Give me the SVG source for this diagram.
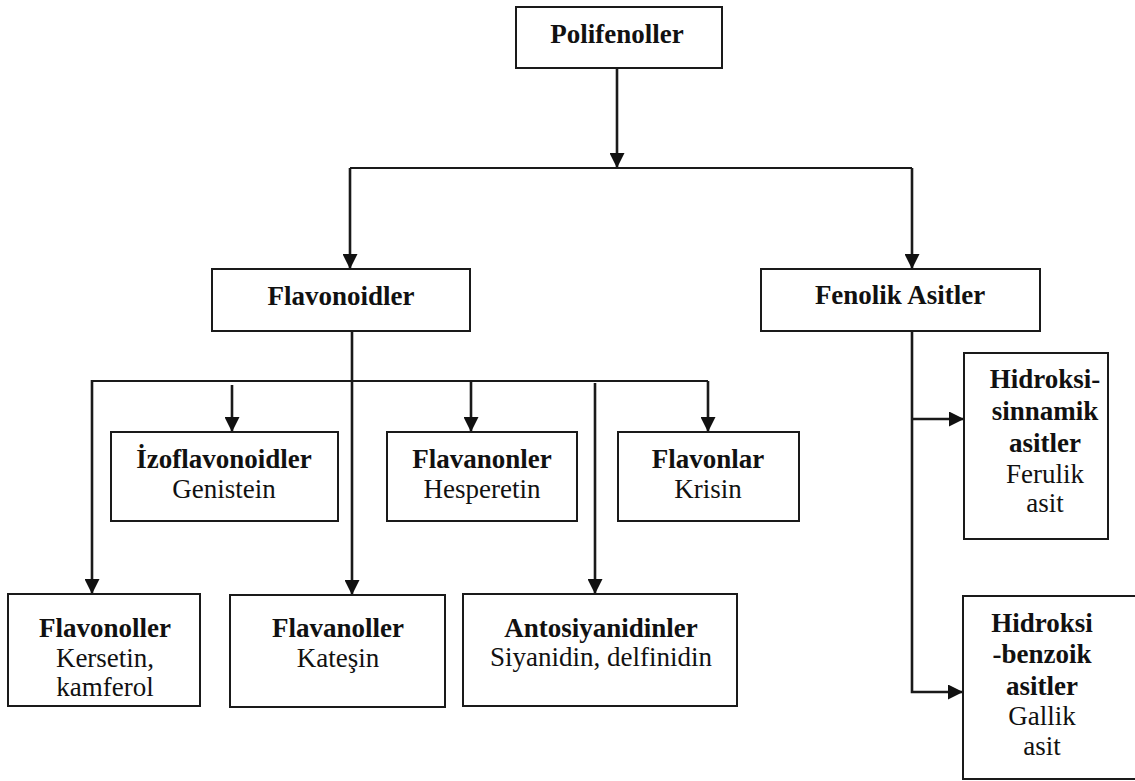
<svg xmlns="http://www.w3.org/2000/svg" width="1135" height="781" viewBox="0 0 1135 781">
<style>
.box{fill:#fff;stroke:#1a1a1a;stroke-width:2}
.t{font-family:"Liberation Serif","Times New Roman",serif;font-size:27px;fill:#111;text-anchor:middle}
.b{font-weight:bold}
.c{fill:none;stroke:#1a1a1a;stroke-width:2.6}
.h{fill:none;stroke:#1a1a1a;stroke-width:1.8}
</style>
<defs>
<marker id="ah" viewBox="0 0 10 10" refX="10" refY="5" markerWidth="15" markerHeight="15" markerUnits="userSpaceOnUse" orient="auto">
<path d="M0,0 L10,5 L0,10 z" fill="#111"/>
</marker>
</defs>
<rect width="1135" height="781" fill="#fff"/>
<g id="connectors">
<line class="c" x1="617" y1="68" x2="617" y2="168" marker-end="url(#ah)"/>
<line class="h" x1="350" y1="168" x2="912" y2="168"/>
<line class="c" x1="350" y1="168" x2="350" y2="269" marker-end="url(#ah)"/>
<line class="c" x1="912" y1="168" x2="912" y2="269" marker-end="url(#ah)"/>
<line class="c" x1="352" y1="331" x2="352" y2="595" marker-end="url(#ah)"/>
<line class="h" x1="92" y1="381" x2="708" y2="381"/>
<line class="c" x1="92" y1="380" x2="92" y2="594" marker-end="url(#ah)"/>
<line class="c" x1="232" y1="385" x2="232" y2="432" marker-end="url(#ah)"/>
<line class="c" x1="471" y1="381" x2="471" y2="432" marker-end="url(#ah)"/>
<line class="c" x1="595" y1="383" x2="595" y2="594" marker-end="url(#ah)"/>
<line class="c" x1="708" y1="381" x2="708" y2="432" marker-end="url(#ah)"/>
<polyline class="c" points="912,331 912,692 963,692" marker-end="url(#ah)"/>
<line class="c" x1="912" y1="419" x2="964" y2="419" marker-end="url(#ah)"/>
</g>
<g id="polifenoller">
<rect class="box" x="516" y="7" width="206" height="61"/>
<text class="t b" x="617" y="43">Polifenoller</text>
</g>
<g id="flavonoidler">
<rect class="box" x="212" y="269" width="258" height="62"/>
<text class="t b" x="341" y="305">Flavonoidler</text>
</g>
<g id="fenolik">
<rect class="box" x="761" y="269" width="279" height="62"/>
<text class="t b" x="900" y="304">Fenolik Asitler</text>
</g>
<g id="izoflavonoidler">
<rect class="box" x="111" y="432" width="227" height="89"/>
<text class="t b" x="224" y="468">İzoflavonoidler</text>
<text class="t" x="224" y="498">Genistein</text>
</g>
<g id="flavanonler">
<rect class="box" x="387" y="432" width="190" height="89"/>
<text class="t b" x="482" y="468">Flavanonler</text>
<text class="t" x="482" y="498">Hesperetin</text>
</g>
<g id="flavonlar">
<rect class="box" x="618" y="432" width="181" height="89"/>
<text class="t b" x="708" y="468">Flavonlar</text>
<text class="t" x="708" y="498">Krisin</text>
</g>
<g id="flavonoller">
<rect class="box" x="8" y="594" width="192" height="112"/>
<text class="t b" x="105" y="637">Flavonoller</text>
<text class="t" x="105" y="667">Kersetin,</text>
<text class="t" x="105" y="696">kamferol</text>
</g>
<g id="flavanoller">
<rect class="box" x="230" y="595" width="215" height="112"/>
<text class="t b" x="338" y="637">Flavanoller</text>
<text class="t" x="338" y="667">Kateşin</text>
</g>
<g id="antosiyanidinler">
<rect class="box" x="463" y="594" width="274" height="112"/>
<text class="t b" x="601" y="637">Antosiyanidinler</text>
<text class="t" x="601" y="666">Siyanidin, delfinidin</text>
</g>
<g id="hidroksisinnamik">
<rect class="box" x="964" y="353" width="144" height="186"/>
<text class="t b" x="1045" y="388">Hidroksi-</text>
<text class="t b" x="1045" y="420">sinnamik</text>
<text class="t b" x="1045" y="452">asitler</text>
<text class="t" x="1045" y="483">Ferulik</text>
<text class="t" x="1045" y="512">asit</text>
</g>
<g id="hidroksibenzoik">
<rect class="box" x="963" y="596" width="190" height="183"/>
<text class="t b" x="1042" y="632">Hidroksi</text>
<text class="t b" x="1042" y="663">-benzoik</text>
<text class="t b" x="1042" y="695">asitler</text>
<text class="t" x="1042" y="725">Gallik</text>
<text class="t" x="1042" y="755">asit</text>
</g>
</svg>
